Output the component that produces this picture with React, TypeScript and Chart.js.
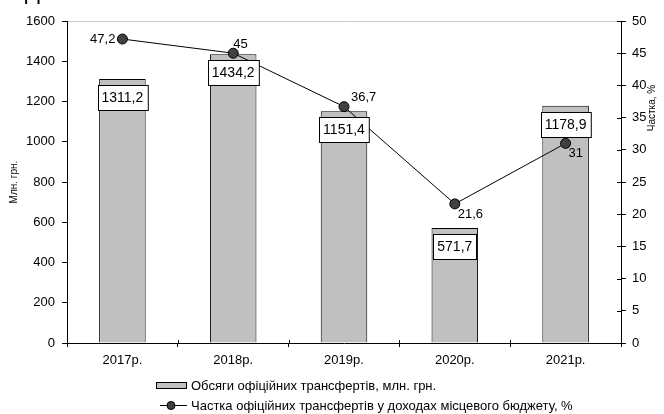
import React, { useEffect, useRef } from 'react';
import { Chart, registerables } from 'chart.js';

Chart.register(...registerables);

const categories = ['2017р.', '2018р.', '2019р.', '2020р.', '2021р.'];
const transferVolumes = [1311.2, 1434.2, 1151.4, 571.7, 1178.9];
const transferShare = [47.2, 45, 36.7, 21.6, 31];
const volumeLabel = 'Обсяги офіційних трансфертів, млн. грн.';
const shareLabel = 'Частка офіційних трансфертів у доходах місцевого бюджету, %';
const leftTitle = 'Млн. грн.';
const rightTitle = 'Частка, %';
const clippedHeading = 'Д';

// placement of the share labels relative to their points: [dx, dy, align]
const shareLabelPlacement: [number, number, CanvasTextAlign][] = [
  [-7, 0, 'right'],
  [0, -9, 'left'],
  [7, -9, 'left'],
  [3, 11, 'left'],
  [3, 10, 'left'],
];

const FONT = '"Liberation Sans", Arial, sans-serif';
const fmt = (v: number) => String(v).replace('.', ',');

const decorPlugin = {
  id: 'decor',
  afterDatasetsDraw(chart: any) {
    const ctx: CanvasRenderingContext2D = chart.ctx;
    const barMeta = chart.getDatasetMeta(1);
    const lineMeta = chart.getDatasetMeta(0);
    ctx.save();
    // bar value boxes
    ctx.font = `14px ${FONT}`;
    ctx.textBaseline = 'middle';
    ctx.textAlign = 'center';
    barMeta.data.forEach((el: any, i: number) => {
      const txt = fmt(transferVolumes[i]);
      const w = ctx.measureText(txt).width + 8;
      const h = 25;
      const x = Math.round(el.x - w / 2) + 0.5;
      const y = Math.round(el.y + 6) + 0.5;
      ctx.fillStyle = '#fff';
      ctx.fillRect(x, y, w, h);
      ctx.strokeStyle = '#000';
      ctx.lineWidth = 1;
      ctx.strokeRect(x, y, w, h);
      ctx.fillStyle = '#000';
      ctx.fillText(txt, el.x, y + h / 2 + 0.5);
    });
    // share labels
    ctx.font = `13px ${FONT}`;
    lineMeta.data.forEach((el: any, i: number) => {
      const [dx, dy, align] = shareLabelPlacement[i];
      ctx.textAlign = align;
      ctx.fillStyle = '#000';
      ctx.fillText(fmt(transferShare[i]), el.x + dx, el.y + dy);
    });
    ctx.restore();
  },
  afterDraw(chart: any) {
    const ctx: CanvasRenderingContext2D = chart.ctx;
    const area = chart.chartArea;
    const y1 = chart.scales.y1;
    ctx.save();
    ctx.strokeStyle = '#000';
    ctx.lineWidth = 1;
    // inner parts of right axis ticks
    y1.ticks.forEach((_t: any, i: number) => {
      const py = Math.round(y1.getPixelForTick(i)) + 0.5;
      ctx.beginPath();
      ctx.moveTo(area.right - 4, py);
      ctx.lineTo(area.right, py);
      ctx.stroke();
    });
    // inner parts of x ticks (category boundaries)
    for (let i = 0; i <= categories.length; i++) {
      const px = Math.round(area.left + (i * (area.right - area.left)) / categories.length) + 0.5;
      ctx.beginPath();
      ctx.moveTo(px, area.bottom - 3);
      ctx.lineTo(px, area.bottom);
      ctx.stroke();
    }
    // axis titles
    ctx.fillStyle = '#000';
    ctx.font = `10px ${FONT}`;
    ctx.textAlign = 'center';
    ctx.textBaseline = 'middle';
    ctx.save();
    ctx.translate(14, (area.top + area.bottom) / 2);
    ctx.rotate(-Math.PI / 2);
    ctx.fillText(leftTitle, 0, 0);
    ctx.restore();
    ctx.save();
    ctx.translate(652, 108);
    ctx.rotate(-Math.PI / 2);
    ctx.fillText(rightTitle, 0, 0);
    ctx.restore();
    // clipped heading glyph
    ctx.font = `22px ${FONT}`;
    ctx.textAlign = 'left';
    ctx.textBaseline = 'alphabetic';
    ctx.fillText(clippedHeading, 25, -1);
    // legend
    ctx.font = `13px ${FONT}`;
    ctx.textBaseline = 'middle';
    ctx.fillStyle = '#c0c0c0';
    ctx.fillRect(156.5, 382.5, 30, 6);
    ctx.strokeRect(156.5, 382.5, 30, 6);
    ctx.fillStyle = '#000';
    ctx.fillText(volumeLabel, 191, 386);
    ctx.beginPath();
    ctx.moveTo(160, 405.5);
    ctx.lineTo(187, 405.5);
    ctx.stroke();
    ctx.beginPath();
    ctx.arc(171, 405.5, 4, 0, Math.PI * 2);
    ctx.fillStyle = '#404040';
    ctx.fill();
    ctx.stroke();
    ctx.fillStyle = '#000';
    ctx.fillText(shareLabel, 191, 406);
    ctx.restore();
  },
};

export default function App() {
  const ref = useRef<HTMLCanvasElement>(null);
  useEffect(() => {
    if (!ref.current) return;
    const chart = new Chart(ref.current, {
      type: 'bar',
      data: {
        labels: categories,
        datasets: [
          {
            type: 'line',
            label: shareLabel,
            data: transferShare,
            yAxisID: 'y1',
            borderColor: '#000',
            borderWidth: 1,
            pointRadius: 5,
            pointBackgroundColor: '#404040',
            pointBorderColor: '#000',
            pointBorderWidth: 1,
            tension: 0,
            order: 0,
          } as any,
          {
            type: 'bar',
            label: volumeLabel,
            data: transferVolumes,
            yAxisID: 'y',
            backgroundColor: '#c0c0c0',
            borderColor: '#000',
            borderWidth: 1,
            barPercentage: 0.42,
            categoryPercentage: 1,
            order: 1,
          },
        ],
      },
      options: {
        responsive: false,
        animation: false,
        devicePixelRatio: 1,
        layout: { padding: { top: 21, left: 0, right: 0, bottom: 0 } },
        plugins: { legend: { display: false }, tooltip: { enabled: false } },
        scales: {
          x: {
            offset: true,
            grid: { offset: true, drawOnChartArea: false, color: '#000', tickLength: 4 },
            border: { display: true, color: '#000' },
            ticks: { color: '#000', font: { family: FONT, size: 13 }, padding: 6 },
            afterFit: (s: any) => {
              s.height = 71;
            },
          },
          y: {
            position: 'left',
            min: 0,
            max: 1600,
            ticks: {
              stepSize: 200,
              color: '#000',
              font: { family: FONT, size: 13 },
              padding: 7,
              callback: (v: any) => String(v),
            },
            grid: {
              color: (c: any) => (c.tick && c.tick.value === 1600 ? '#c8c8c8' : 'rgba(0,0,0,0)'),
              tickColor: '#000',
              tickLength: 5,
            },
            border: { display: true, color: '#000' },
            afterFit: (s: any) => {
              s.width = 67;
            },
          },
          y1: {
            position: 'right',
            min: 0,
            max: 50,
            ticks: {
              stepSize: 5,
              color: '#000',
              font: { family: FONT, size: 13 },
              padding: 6,
              callback: (v: any) => String(v),
            },
            grid: { drawOnChartArea: false, color: '#000', tickLength: 5 },
            border: { display: true, color: '#000' },
            afterFit: (s: any) => {
              s.width = 43;
            },
          },
        },
      },
      plugins: [decorPlugin],
    });
    return () => chart.destroy();
  }, []);
  return (
    <div style={{ position: 'absolute', left: 0, top: 0, width: 664, height: 414, background: '#fff' }}>
      <canvas ref={ref} width={664} height={414} />
    </div>
  );
}
